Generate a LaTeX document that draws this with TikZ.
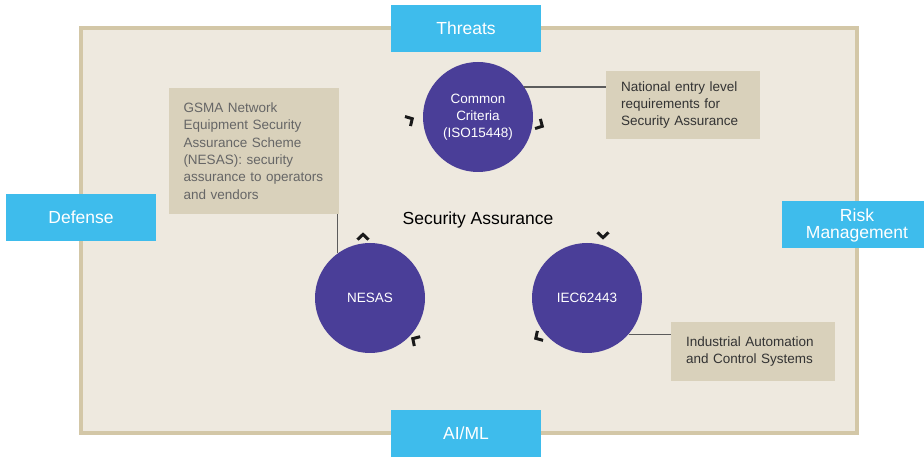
\documentclass[tikz,border=0pt]{standalone}
\usepackage{fontspec}
\setmainfont{Liberation Sans}
\definecolor{skyblue}{HTML}{3EBCEC}
\definecolor{plum}{HTML}{4A3E98}
\definecolor{sand}{HTML}{D9D1BB}
\definecolor{paper}{HTML}{EEE9DF}
\definecolor{rim}{HTML}{D3C7A7}
\definecolor{ink}{HTML}{333333}
\begin{document}
\begin{tikzpicture}[x=1pt,y=1pt,
  tag/.style={fill=skyblue,text=white,minimum width=150,minimum height=47,
    inner sep=0,align=center,font=\fontsize{17.5}{17}\selectfont},
  std/.style={circle,fill=plum,text=white,minimum size=110,inner sep=0,
    align=center,font=\fontsize{13.5}{17}\selectfont},
  note/.style={fill=sand,text=ink,inner xsep=15,inner ysep=0,align=left,
    font=\fontsize{13.5}{17.3}\selectfont},
  link/.style={draw=ink!80,line width=1.2},
  chev/.style={draw=black!90,line width=3,line join=miter}]
\useasboundingbox (0,0) rectangle (924,458);
% frame
\draw[rim,fill=paper,line width=4] (81,25) rectangle (857,429.5);
% side tags
\node[tag] (threats) at (466,429.5) {Threats};
\node[tag] (aiml) at (466,24.5) {AI/ML};
\node[tag] (defense) at (81,240.5) {Defense};
\node[tag] (risk) at (857,233) {Risk\\Management};
% standards
\node[std] (cc) at (478,341) {Common\\Criteria\\(ISO15448)};
\node[std] (nesas) at (370,160) {NESAS};
\node[std] (iec) at (587,160) {IEC62443};
\node[font=\fontsize{17.5}{17}\selectfont] (sa) at (478,238) {Security Assurance};
% notes
\node[note,text=black!60,text width=140,minimum height=126] (gsma) at (253.5,307)
  {GSMA Network\\Equipment Security\\Assurance Scheme\\(NESAS): security\\assurance to operators\\and vendors};
\node[note,text width=124,minimum height=68] (natl) at (683,353)
  {National entry level\\requirements for\\Security Assurance};
\node[note,text width=134,minimum height=59] (ind) at (753,106.5)
  {Industrial Automation\\and Control Systems};
\draw[link] (cc.33) -- (cc.33 -| natl.west);
\draw[link] (iec.-41) -- (iec.-41 -| ind.west);
\draw[link] (nesas.126) -- (nesas.126 |- gsma.south);
% cycle marks
\foreach \x/\y/\a in {410/338/30,540/333/-29,603/223/-90,538/121/211,415/118/148,363/221/90}
  {\draw[chev,shift={(\x,\y)},rotate=\a-90] (-5.5,-2.6)--(0,2.6)--(5.5,-2.6);}
\end{tikzpicture}
\end{document}
